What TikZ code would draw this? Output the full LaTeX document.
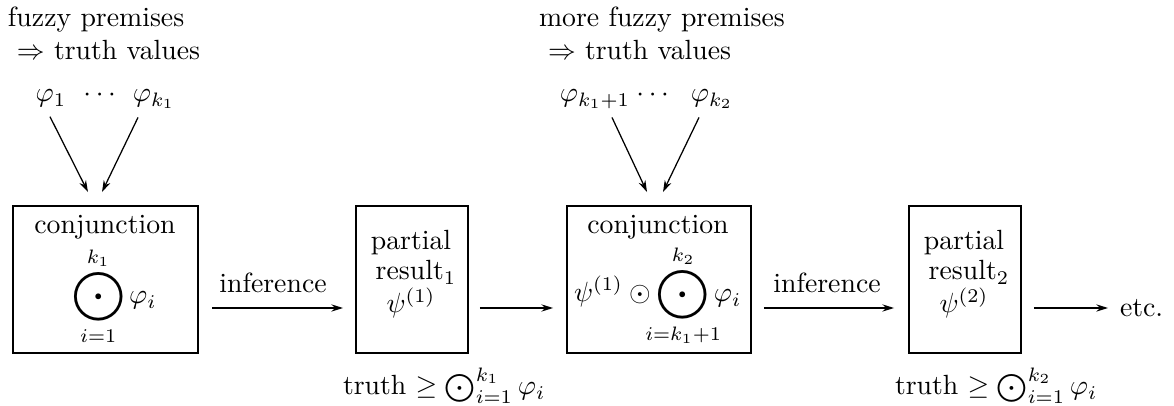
\documentclass[tikz,border=0pt]{standalone}
\usepackage{amsmath,amssymb,mathtools}
\usetikzlibrary{arrows.meta,calc}
\newcommand{\BigOdot}{\mathop{\vcenter{\hbox{\scalebox{1.25}{$\displaystyle\bigodot$}}}}}
\begin{document}
\begin{tikzpicture}[x=0.36pt,y=-0.36pt,
  box/.style={draw,line width=0.5pt,inner sep=0pt,outer sep=0pt},
  lbl/.style={inner sep=0pt,outer sep=0pt},
  arr/.style={-{Stealth[length=4.2pt,width=2.6pt]},line width=0.45pt}]
\useasboundingbox (0,0) rectangle (1174,406);

% boxes
\node[box,minimum width=66.6pt,minimum height=52.9pt] (b1) at (105.5,279.5) {};
\node[box,minimum width=40.3pt,minimum height=52.9pt] (b2) at (412,279.5) {};
\node[box,minimum width=66.2pt,minimum height=52.9pt] (b3) at (659,279.5) {};
\node[box,minimum width=40.3pt,minimum height=52.9pt] (b4) at (965,279.5) {};

% top texts, group 1
\node[lbl,anchor=base west] (f1) at (8,27) {fuzzy premises};
\node[lbl,anchor=base west] (f2) at (17,60) {$\Rightarrow$ truth values};
\node[lbl,anchor=base] (p1) at (51,102) {$\varphi_1$};
\node[lbl,anchor=base] (d1) at (102,102) {$\cdots$};
\node[lbl,anchor=base] (pk1) at (154,102) {$\varphi_{k_1}$};

% top texts, group 2
\node[lbl,anchor=base west] (g1) at (539,27) {more fuzzy premises};
\node[lbl,anchor=base west] (g2) at (548,60) {$\Rightarrow$ truth values};
\node[lbl,anchor=base] (p2) at (595,102) {$\varphi_{k_1+1}$};
\node[lbl,anchor=base] (d2) at (655,102) {$\cdots$};
\node[lbl,anchor=base] (pk2) at (712,102) {$\varphi_{k_2}$};

% targets above the conjunction boxes
\coordinate (t1) at ($(b1.north)+(-17.5,-14)$);
\coordinate (t2) at ($(b1.north)+(-3.5,-14)$);
\coordinate (t3) at ($(b3.north)+(-12,-14)$);
\coordinate (t4) at ($(b3.north)+(4,-14)$);

\draw[arr] ($(p1)+(-1,18)$) -- (t1);
\draw[arr] ($(pk1)+(-16,18)$) -- (t2);
\draw[arr] ($(p2)+(17,18)$) -- (t3);
\draw[arr] ($(pk2)+(-13,18)$) -- (t4);

% box contents
\node[lbl,anchor=base] (c1) at (105,234) {conjunction};
\node[lbl,anchor=base west] (e1) at (72,304) {$\displaystyle\BigOdot\limits_{\mathclap{i=1}}^{\mathclap{k_1}}\varphi_i$};

\node[lbl,anchor=base] (r1a) at (411,250) {partial};
\node[lbl,anchor=base] (r1b) at (416,280) {result$_1$};
\node[lbl,anchor=base] (r1c) at (411,313) {$\psi^{(1)}$};

\node[lbl,anchor=base] (c3) at (658,234) {conjunction};
\node[lbl,anchor=base west] (e3) at (574,302) {$\displaystyle\psi^{(1)}\odot\BigOdot\limits_{\mathclap{i=k_1+1}}^{\mathclap{k_2}}\varphi_i$};

\node[lbl,anchor=base] (r2a) at (964,250) {partial};
\node[lbl,anchor=base] (r2b) at (969,280) {result$_2$};
\node[lbl,anchor=base] (r2c) at (964,313) {$\psi^{(2)}$};

% labels
\node[lbl,anchor=base] (i1) at (273,293) {inference};
\node[lbl,anchor=base] (i2) at (827,293) {inference};
\node[lbl,anchor=base west] (etc) at (1120,317) {etc.};

\node[lbl,anchor=base west] (l1) at (343,395) {truth $\geq\bigodot_{i=1}^{k_1}\varphi_i$};
\node[lbl,anchor=base west] (l2) at (895,395) {truth $\geq\bigodot_{i=1}^{k_2}\varphi_i$};

% connectors
\draw[arr] ($(b1.east)+(14,28.5)$) -- ($(b2.west)+(-13,28.5)$);
\draw[arr] ($(b2.east)+(12,28.5)$) -- ($(b3.west)+(-14,28.5)$);
\draw[arr] ($(b3.east)+(13,28.5)$) -- ($(b4.west)+(-15,28.5)$);
\draw[arr] ($(b4.east)+(13,28.5)$) -- ($(etc.west |- b4.east)+(-12,28.5)$);
\end{tikzpicture}
\end{document}
